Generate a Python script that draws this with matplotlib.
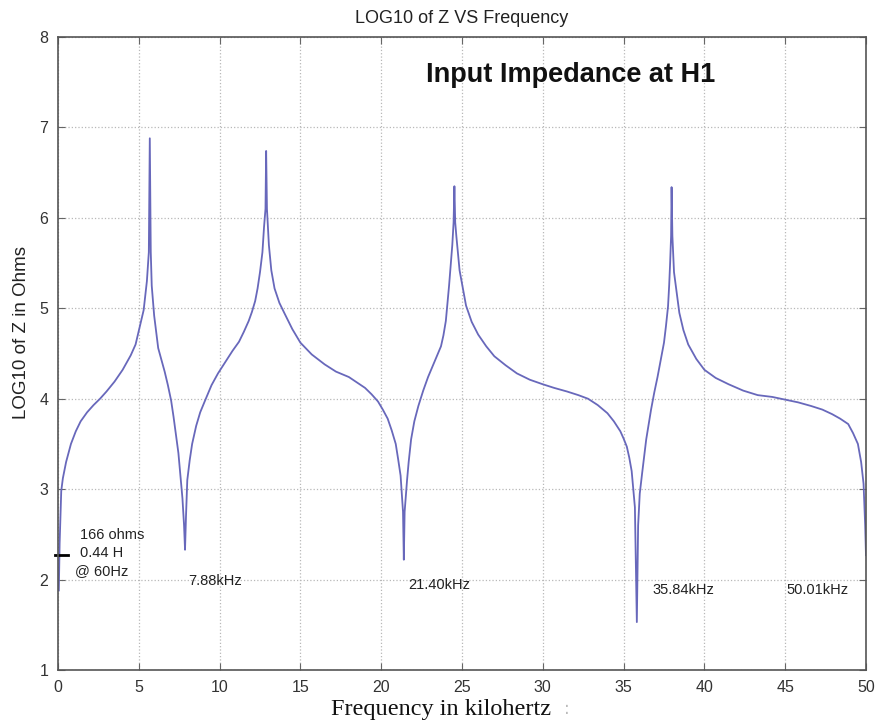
import matplotlib.pyplot as plt

# readings from the curve: frequency (kHz) and log10 |Z| (ohms)
freq_khz = [0.05, 0.1, 0.2, 0.3, 0.5, 0.8, 1.1, 1.4, 1.8, 2.2, 2.6, 3.0, 3.5, 4.0, 4.5, 4.8,
            5.0, 5.3, 5.5, 5.62, 5.68, 5.74, 5.8, 5.95, 6.2, 6.4, 6.6, 6.8, 7.0, 7.15,
            7.3, 7.45, 7.55, 7.62, 7.7, 7.75, 7.8, 7.86, 7.92, 8.0, 8.15, 8.3, 8.55,
            8.8, 9.1, 9.5, 9.9, 10.4, 10.8, 11.2, 11.5, 11.8, 12.0, 12.2, 12.35, 12.5,
            12.65, 12.75, 12.84, 12.88, 12.93, 13.05, 13.2, 13.4, 13.7, 14.0, 14.5,
            15.0, 15.7, 16.5, 17.2, 18.0, 18.5, 19.0, 19.4, 19.8, 20.1, 20.4, 20.65,
            20.9, 21.05, 21.2, 21.35, 21.4, 21.45, 21.6, 21.7, 21.85, 22.05, 22.3,
            22.6, 22.9, 23.3, 23.7, 23.85, 24.0, 24.1, 24.2, 24.3, 24.4, 24.48, 24.53,
            24.58, 24.65, 24.85, 25.25, 25.6, 26.0, 26.5, 27.0, 27.7, 28.4, 29.2,
            30.0, 30.7, 31.5, 32.2, 32.8, 33.4, 34.0, 34.4, 34.8, 35.0, 35.2, 35.35,
            35.5, 35.7, 35.82, 35.9, 36.0, 36.15, 36.4, 36.7, 36.9, 37.1, 37.3, 37.5,
            37.62, 37.75, 37.82, 37.88, 37.94, 37.97, 38.02, 38.12, 38.45, 38.7, 39.0,
            39.5, 40.0, 40.7, 41.5, 42.4, 43.3, 44.2, 45.0, 45.8, 46.6, 47.3, 47.9,
            48.4, 48.9, 49.2, 49.5, 49.7, 49.85, 49.95, 50.0]
log_z = [1.88, 2.4, 2.98, 3.12, 3.3, 3.5, 3.64, 3.75, 3.85, 3.93, 4.0, 4.08, 4.19, 4.32, 4.48, 4.6,
         4.75, 4.98, 5.3, 5.62, 6.88, 5.62, 5.25, 4.92, 4.56, 4.43, 4.3, 4.15, 3.98, 3.8,
         3.6, 3.4, 3.2, 3.05, 2.9, 2.75, 2.6, 2.33, 2.7, 3.1, 3.32, 3.5, 3.7,
         3.85, 3.98, 4.15, 4.28, 4.42, 4.53, 4.63, 4.74, 4.86, 4.96, 5.08, 5.22, 5.4,
         5.62, 5.9, 6.1, 6.74, 6.1, 5.7, 5.42, 5.22, 5.06, 4.95, 4.77,
         4.62, 4.49, 4.38, 4.3, 4.24, 4.18, 4.12, 4.05, 3.97, 3.88, 3.78, 3.65,
         3.5, 3.33, 3.15, 2.75, 2.22, 2.75, 3.1, 3.3, 3.55, 3.75, 3.92,
         4.09, 4.24, 4.41, 4.58, 4.7, 4.86, 5.05, 5.25, 5.48, 5.7, 5.95, 6.35,
         5.95, 5.8, 5.42, 5.03, 4.85, 4.71, 4.58, 4.47, 4.37, 4.28, 4.21,
         4.16, 4.12, 4.08, 4.04, 4.0, 3.93, 3.84, 3.75, 3.64, 3.56, 3.47, 3.35,
         3.2, 2.8, 1.53, 2.6, 2.95, 3.18, 3.55, 3.88, 4.07, 4.24, 4.43, 4.62,
         4.8, 5.02, 5.25, 5.5, 5.8, 6.34, 5.8, 5.4, 4.95, 4.76, 4.6,
         4.44, 4.32, 4.23, 4.16, 4.09, 4.04, 4.02, 3.99, 3.96, 3.92, 3.88, 3.83,
         3.78, 3.72, 3.62, 3.5, 3.3, 3.06, 2.6, 2.27]

dip_labels = ['7.88kHz', '21.40kHz', '35.84kHz', '50.01kHz']
dip_label_x = [8.05, 21.65, 36.8, 45.1]
dip_label_y = [1.98, 1.94, 1.88, 1.88]

note_lines = ['166 ohms', '0.44 H', '@ 60Hz']
note_x = [1.35, 1.35, 1.05]
note_y = [2.49, 2.29, 2.09]
marker_level = 2.27

xticks = [0, 5, 10, 15, 20, 25, 30, 35, 40, 45, 50]
yticks = [1, 2, 3, 4, 5, 6, 7, 8]

sans = 'Liberation Sans'
fig = plt.figure(figsize=(8.87, 7.26), dpi=100)
ax = fig.add_axes([0.0654, 0.0771, 0.9109, 0.8719])

ax.plot(freq_khz, log_z, color='#6868bb', lw=1.3)

# black tick for the 60 Hz value
ax.plot([-0.2, 0.6], [marker_level, marker_level], color='black', lw=2, clip_on=False)
for t, x, y in zip(note_lines, note_x, note_y):
    ax.text(x, y, t, fontsize=10.5, family=sans, color='#222222', va='center', ha='left')
for t, x, y in zip(dip_labels, dip_label_x, dip_label_y):
    ax.text(x, y, t, fontsize=10.5, family=sans, color='#222222', va='center', ha='left')

ax.text(0.455, 0.94, 'Input Impedance at H1', transform=ax.transAxes, fontsize=19.5,
        fontweight='bold', family=sans, color='#111111', ha='left', va='center')

ax.set_xlim(0, 50)
ax.set_ylim(1, 8)
ax.set_xticks(xticks)
ax.set_yticks(yticks)
ax.grid(True, linestyle=':', color='#b8b8b8', lw=0.9)
ax.tick_params(direction='in', top=True, right=True, length=5, color='#666666',
               labelsize=11.5, labelcolor='#333333', pad=7)
for lbl in ax.get_xticklabels() + ax.get_yticklabels():
    lbl.set_family(sans)
for s in ax.spines.values():
    s.set_color('#555555')
    s.set_linewidth(1.2)

ax.set_title('LOG10 of Z VS Frequency', fontsize=13, family=sans, color='#222222', pad=10)
ax.set_ylabel('LOG10 of Z in Ohms', fontsize=13.5, family=sans, color='#222222')
ax.yaxis.set_label_coords(-0.035, 0.534)
ax.set_xlabel('Frequency in kilohertz', fontsize=17.5, family='Liberation Serif',
              color='#111111')
ax.xaxis.set_label_coords(0.474, -0.046)
ax.text(0.626, -0.062, ':', transform=ax.transAxes, fontsize=12, color='#bbbbbb',
        ha='left', va='center')

fig.savefig('out.png', dpi=100)
